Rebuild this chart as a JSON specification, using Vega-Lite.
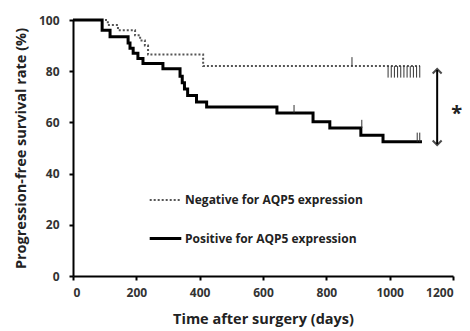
{
  "$schema": "https://vega.github.io/schema/vega-lite/v6.json",
  "width": 380,
  "height": 256,
  "autosize": "none",
  "padding": {"left": 73, "top": 20, "right": 17, "bottom": 55},
  "background": "white",
  "config": {
    "view": {"stroke": null},
    "font": "Open Sans",
    "axis": {"domainColor": "#000", "domainWidth": 2, "tickColor": "#000", "tickWidth": 2, "tickSize": 4, "labelColor": "#333", "labelFontWeight": "bold", "labelFontSize": 12, "titleColor": "#222", "titleFontWeight": "bold", "titleFontSize": 14.5, "grid": false}
  },
  "datasets": {
    "curves": [
      {"days": 0, "pct": 100, "group": "Negative for AQP5 expression"},
      {"days": 110, "pct": 98, "group": "Negative for AQP5 expression"},
      {"days": 142, "pct": 96, "group": "Negative for AQP5 expression"},
      {"days": 196, "pct": 94, "group": "Negative for AQP5 expression"},
      {"days": 212, "pct": 92, "group": "Negative for AQP5 expression"},
      {"days": 227, "pct": 90, "group": "Negative for AQP5 expression"},
      {"days": 237, "pct": 86.5, "group": "Negative for AQP5 expression"},
      {"days": 411, "pct": 82, "group": "Negative for AQP5 expression"},
      {"days": 1096, "pct": 82, "group": "Negative for AQP5 expression"},
      {"days": 0, "pct": 100, "group": "Positive for AQP5 expression"},
      {"days": 92, "pct": 96, "group": "Positive for AQP5 expression"},
      {"days": 117, "pct": 93.5, "group": "Positive for AQP5 expression"},
      {"days": 174, "pct": 91, "group": "Positive for AQP5 expression"},
      {"days": 180, "pct": 89, "group": "Positive for AQP5 expression"},
      {"days": 190, "pct": 87, "group": "Positive for AQP5 expression"},
      {"days": 205, "pct": 85, "group": "Positive for AQP5 expression"},
      {"days": 221, "pct": 83, "group": "Positive for AQP5 expression"},
      {"days": 284, "pct": 81, "group": "Positive for AQP5 expression"},
      {"days": 338, "pct": 78, "group": "Positive for AQP5 expression"},
      {"days": 345, "pct": 75.5, "group": "Positive for AQP5 expression"},
      {"days": 352, "pct": 73, "group": "Positive for AQP5 expression"},
      {"days": 362, "pct": 70.5, "group": "Positive for AQP5 expression"},
      {"days": 390, "pct": 68, "group": "Positive for AQP5 expression"},
      {"days": 422, "pct": 66, "group": "Positive for AQP5 expression"},
      {"days": 644, "pct": 63.7, "group": "Positive for AQP5 expression"},
      {"days": 758, "pct": 60.3, "group": "Positive for AQP5 expression"},
      {"days": 811, "pct": 57.8, "group": "Positive for AQP5 expression"},
      {"days": 909, "pct": 55, "group": "Positive for AQP5 expression"},
      {"days": 979, "pct": 52.4, "group": "Positive for AQP5 expression"},
      {"days": 1102, "pct": 52.4, "group": "Positive for AQP5 expression"}
    ],
    "censors": [
      {"days": 881, "lo": 82, "hi": 85.5, "group": "Negative for AQP5 expression"},
      {"days": 995, "lo": 77.5, "hi": 82, "group": "Negative for AQP5 expression"},
      {"days": 1005, "lo": 77.5, "hi": 82, "group": "Negative for AQP5 expression"},
      {"days": 1015, "lo": 77.5, "hi": 82, "group": "Negative for AQP5 expression"},
      {"days": 1025, "lo": 77.5, "hi": 82, "group": "Negative for AQP5 expression"},
      {"days": 1035, "lo": 77.5, "hi": 82, "group": "Negative for AQP5 expression"},
      {"days": 1045, "lo": 77.5, "hi": 82, "group": "Negative for AQP5 expression"},
      {"days": 1055, "lo": 77.5, "hi": 82, "group": "Negative for AQP5 expression"},
      {"days": 1065, "lo": 77.5, "hi": 82, "group": "Negative for AQP5 expression"},
      {"days": 1075, "lo": 77.5, "hi": 82, "group": "Negative for AQP5 expression"},
      {"days": 1085, "lo": 77.5, "hi": 82, "group": "Negative for AQP5 expression"},
      {"days": 1095, "lo": 77.5, "hi": 82, "group": "Negative for AQP5 expression"},
      {"days": 698, "lo": 63.7, "hi": 66.8, "group": "Positive for AQP5 expression"},
      {"days": 912, "lo": 57.8, "hi": 61, "group": "Positive for AQP5 expression"},
      {"days": 1087, "lo": 52.4, "hi": 56, "group": "Positive for AQP5 expression"},
      {"days": 1095, "lo": 52.4, "hi": 56, "group": "Positive for AQP5 expression"}
    ]
  },
  "layer": [
    {
      "data": {"name": "curves"},
      "mark": {"type": "line", "interpolate": "step-after", "clip": false},
      "encoding": {
        "x": {"field": "days", "type": "quantitative", "scale": {"domain": [0, 1200], "nice": false}, "axis": {"values": [0, 200, 400, 600, 800, 1000, 1200], "format": "d", "title": "Time after surgery (days)", "labelPadding": 7, "titlePadding": 14}},
        "y": {"field": "pct", "type": "quantitative", "scale": {"domain": [0, 100], "nice": false}, "axis": {"values": [0, 20, 40, 60, 80, 100], "title": "Progression-free survival rate (%)", "labelPadding": 10, "titlePadding": 10}},
        "color": {"field": "group", "type": "nominal", "scale": {"domain": ["Negative for AQP5 expression", "Positive for AQP5 expression"], "range": ["#555555", "#000000"]}, "legend": {"title": null, "orient": "none", "legendX": 75, "legendY": 163, "symbolType": "stroke", "symbolSize": 1000, "symbolStrokeWidth": 2.5, "labelFontSize": 12, "labelFontWeight": "bold", "labelColor": "#222", "labelLimit": 400, "rowPadding": 15, "labelOffset": 2}},
        "strokeDash": {"field": "group", "type": "nominal", "scale": {"domain": ["Negative for AQP5 expression", "Positive for AQP5 expression"], "range": [[2, 2], [1, 0]]}, "legend": {"title": null, "orient": "none", "legendX": 75, "legendY": 163, "symbolType": "stroke", "symbolSize": 1000, "symbolStrokeWidth": 2.5, "labelFontSize": 12, "labelFontWeight": "bold", "labelColor": "#222", "labelLimit": 400, "rowPadding": 15, "labelOffset": 2}},
        "strokeWidth": {"field": "group", "type": "nominal", "scale": {"domain": ["Negative for AQP5 expression", "Positive for AQP5 expression"], "range": [2, 3]}, "legend": null}
      }
    },
    {
      "data": {"name": "censors"},
      "mark": {"type": "rule", "strokeWidth": 1, "color": "#333"},
      "encoding": {
        "x": {"field": "days", "type": "quantitative"},
        "y": {"field": "lo", "type": "quantitative"},
        "y2": {"field": "hi"}
      }
    },
    {
      "data": {"values": [{"days": 1150, "lo": 51.5, "hi": 80.5}]},
      "mark": {"type": "rule", "strokeWidth": 2, "color": "#000"},
      "encoding": {
        "x": {"field": "days", "type": "quantitative"},
        "y": {"field": "lo", "type": "quantitative"},
        "y2": {"field": "hi"}
      }
    },
    {
      "data": {"values": [{"days": 1150, "pct": 80.5, "dir": "up"}]},
      "mark": {"type": "point", "shape": "M-1,0.8L0,-0.2L1,0.8", "size": 80, "strokeWidth": 2, "color": "#000", "filled": false},
      "encoding": {
        "x": {"field": "days", "type": "quantitative"},
        "y": {"field": "pct", "type": "quantitative"}
      }
    },
    {
      "data": {"values": [{"days": 1150, "pct": 51.5, "dir": "down"}]},
      "mark": {"type": "point", "shape": "M-1,-0.8L0,0.2L1,-0.8", "size": 80, "strokeWidth": 2, "color": "#000", "filled": false},
      "encoding": {
        "x": {"field": "days", "type": "quantitative"},
        "y": {"field": "pct", "type": "quantitative"}
      }
    },
    {
      "data": {"values": [{"days": 1212, "pct": 65, "label": "*"}]},
      "mark": {"type": "text", "fontSize": 20, "fontWeight": "bold", "color": "#222", "baseline": "middle", "dy": 4},
      "encoding": {
        "x": {"field": "days", "type": "quantitative"},
        "y": {"field": "pct", "type": "quantitative"},
        "text": {"field": "label"}
      }
    }
  ]
}
